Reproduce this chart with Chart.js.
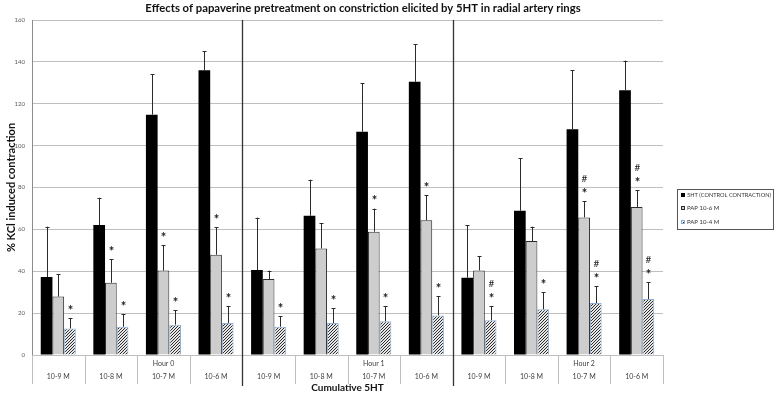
<!DOCTYPE html>
<html>
<head>
<meta charset="utf-8">
<script src="https://cdn.jsdelivr.net/npm/chart.js@4/dist/chart.umd.min.js"></script>
<style>
  html, body { margin: 0; padding: 0; background: #ffffff; }
  #wrap { width: 778px; height: 395px; position: relative; }
</style>
</head>
<body>
<div id="wrap"><canvas id="c" width="778" height="395"></canvas></div>
<script>
// ---------- data ----------
const categories = ['10-9 M', '10-8 M', '10-7 M', '10-6 M', '10-9 M', '10-8 M', '10-7 M', '10-6 M', '10-9 M', '10-8 M', '10-7 M', '10-6 M'];
const hourLabels = ['', '', 'Hour 0', '', '', '', 'Hour 1', '', '', '', 'Hour 2', ''];
const seriesNames = ['5HT (CONTROL CONTRACTION)', 'PAP 10-6 M', 'PAP 10-4 M'];

const ctrlValues = [37.2, 62.1, 114.8, 136.0, 40.6, 66.5, 106.6, 130.5, 36.9, 68.9, 107.8, 126.5];
const ctrlErrors = [24.1, 13.0, 19.4, 9.0, 25.0, 17.2, 23.3, 18.0, 25.0, 25.2, 28.3, 14.1];
const ctrlMarks  = ['', '', '', '', '', '', '', '', '', '', '', ''];

const pap6Values = [27.9, 34.5, 40.3, 47.9, 36.3, 50.9, 58.9, 64.3, 40.4, 54.4, 65.7, 70.7];
const pap6Errors = [10.8, 11.2, 12.1, 13.1, 4.0, 12.1, 11.0, 12.0, 6.9, 6.9, 7.8, 7.9];
const pap6Marks  = ['', '*', '*', '*', '', '', '*', '*', '', '', '#*', '#*'];

const pap4Values = [12.7, 13.5, 14.5, 15.3, 13.5, 15.3, 16.1, 18.9, 16.6, 21.8, 24.8, 26.7];
const pap4Errors = [4.8, 6.1, 6.8, 8.1, 5.1, 7.0, 7.2, 9.1, 6.8, 8.1, 8.1, 8.0];
const pap4Marks  = ['*', '*', '*', '*', '*', '*', '*', '*', '#*', '*', '#*', '#*'];

const groupBoundaries = [4, 8]; // category index where a new hour group starts

// ---------- styling helpers ----------
const FONT = 'Lato, "Open Sans", "DejaVu Sans", sans-serif';

function hatchPattern() {
  const s = 3;
  const pc = document.createElement('canvas');
  pc.width = s; pc.height = s;
  const p = pc.getContext('2d');
  p.fillStyle = '#e6e6e6';
  p.fillRect(0, 0, s, s);
  p.fillStyle = '#2e2e2e';
  // one-pixel diagonal "/" stripe
  p.fillRect(2, 0, 1, 1);
  p.fillRect(1, 1, 1, 1);
  p.fillRect(0, 2, 1, 1);
  return document.getElementById('c').getContext('2d').createPattern(pc, 'repeat');
}
const hatch = hatchPattern();

const errorsByDataset = [ctrlErrors, pap6Errors, pap4Errors];
const marksByDataset = [ctrlMarks, pap6Marks, pap4Marks];

// ---------- plugins ----------
const decorPlugin = {
  id: 'decor',
  afterDatasetsDraw(chart) {
    const ctx = chart.ctx;
    const xs = chart.scales.x, ys = chart.scales.y;
    const area = chart.chartArea;
    ctx.save();
    // error bars and significance marks
    chart.data.datasets.forEach((ds, di) => {
      const meta = chart.getDatasetMeta(di);
      meta.data.forEach((el, i) => {
        const v = ds.data[i];
        const e = errorsByDataset[di][i];
        const yTop = ys.getPixelForValue(v + e);
        const x = Math.round(el.x) + 0.5;
        ctx.strokeStyle = '#2b2b2b';
        ctx.lineWidth = 1;
        ctx.beginPath();
        ctx.moveTo(x, el.y);
        ctx.lineTo(x, yTop);
        ctx.moveTo(x - 2, Math.round(yTop) + 0.5);
        ctx.lineTo(x + 2, Math.round(yTop) + 0.5);
        ctx.stroke();
        const m = marksByDataset[di][i];
        if (m) {
          ctx.fillStyle = '#1a1a1a';
          ctx.textAlign = 'center';
          ctx.textBaseline = 'middle';
          const chars = m.split('').reverse();
          let cy = yTop - 10.5;
          chars.forEach(ch => {
            if (ch === '*') {
              ctx.font = 'bold 13px ' + FONT;
              ctx.fillText('*', x, cy + 3);
            } else {
              ctx.font = '10px ' + FONT;
              ctx.fillText(ch, x, cy);
            }
            cy -= 12;
          });
        }
      });
    });
    // category separators under the axis
    const n = chart.data.labels.length;
    const boundary = k => (k === 0) ? area.left : (k === n ? area.right : (xs.getPixelForValue(k - 1) + xs.getPixelForValue(k)) / 2);
    ctx.strokeStyle = '#bfbfbf';
    ctx.lineWidth = 1;
    for (let k = 0; k <= n; k++) {
      if (groupBoundaries.includes(k)) continue;
      const bx = Math.round(boundary(k)) + 0.5;
      ctx.beginPath();
      ctx.moveTo(bx, area.bottom);
      ctx.lineTo(bx, area.bottom + 29);
      ctx.stroke();
    }
    // dark hour-group separators
    ctx.strokeStyle = '#333333';
    ctx.lineWidth = 1.3;
    groupBoundaries.forEach(k => {
      const bx = Math.round(boundary(k)) + 0.5;
      ctx.beginPath();
      ctx.moveTo(bx, area.top);
      ctx.lineTo(bx, area.bottom + 31);
      ctx.stroke();
    });
    ctx.restore();
  },
  afterDraw(chart) {
    const ctx = chart.ctx;
    ctx.save();
    // title
    ctx.fillStyle = '#111111';
    ctx.font = 'bold 11.3px ' + FONT;
    ctx.textAlign = 'center';
    ctx.textBaseline = 'middle';
    ctx.fillText('Effects of papaverine pretreatment on constriction elicited by 5HT in radial artery rings', 363, 8);
    // legend
    const lx = 677, ly = 189, lw = 96, lh = 40;
    ctx.fillStyle = '#ffffff';
    ctx.fillRect(lx, ly, lw, lh);
    ctx.strokeStyle = '#555555';
    ctx.lineWidth = 1;
    ctx.strokeRect(lx + 0.5, ly + 0.5, lw, lh);
    const rows = [195, 208, 222];
    const ds = chart.data.datasets;
    ctx.font = '6px ' + FONT;
    ctx.textAlign = 'left';
    rows.forEach((ry, i) => {
      ctx.fillStyle = ds[i].backgroundColor;
      ctx.fillRect(681, ry - 2, 4, 4);
      if (ds[i].borderWidth) {
        ctx.strokeStyle = ds[i].borderColor;
        ctx.strokeRect(681.5, ry - 1.5, 3, 3);
      }
      ctx.fillStyle = '#333333';
      ctx.fillText(seriesNames[i], 687, ry + 0.5, 84);
    });
    ctx.restore();
  }
};

// ---------- chart ----------
new Chart(document.getElementById('c'), {
  type: 'bar',
  data: {
    labels: categories.map((c, i) => [hourLabels[i], c]),
    datasets: [
      { label: seriesNames[0], data: ctrlValues, backgroundColor: '#000000', borderWidth: 0 },
      { label: seriesNames[1], data: pap6Values, backgroundColor: '#cdcdcd', borderColor: '#2b2b2b', borderWidth: 1 },
      { label: seriesNames[2], data: pap4Values, backgroundColor: hatch, borderColor: '#8fb0d6', borderWidth: 1 }
    ]
  },
  options: {
    responsive: false,
    animation: false,
    events: [],
    layout: { padding: { top: 20, right: 115, bottom: 0, left: 0 } },
    datasets: { bar: { categoryPercentage: 0.667, barPercentage: 1.0 } },
    plugins: { legend: { display: false }, tooltip: { enabled: false }, title: { display: false } },
    scales: {
      x: {
        offset: true,
        grid: { display: false, drawTicks: false },
        border: { display: true, color: '#bfbfbf', width: 1 },
        ticks: {
          color: '#404040',
          font: { family: FONT, size: 7, lineHeight: 13 / 7 },
          padding: 2.5,
          maxRotation: 0, autoSkip: false
        },
        title: {
          display: true, text: 'Cumulative 5HT', color: '#111111',
          font: { family: FONT, size: 10, weight: 'bold', lineHeight: 1.2 },
          padding: { top: 0, bottom: 1 }
        },
        afterFit(scale) { scale.height = 40; }
      },
      y: {
        min: 0, max: 160,
        ticks: {
          stepSize: 20, color: '#595959',
          font: { family: FONT, size: 6 },
          padding: 7
        },
        grid: { color: '#bfbfbf', lineWidth: 1, drawTicks: false },
        border: { display: true, color: '#8c8c8c', width: 1 },
        title: {
          display: true, text: '% KCl induced contraction', color: '#111111',
          font: { family: FONT, size: 11, weight: 'bold', lineHeight: 1.2 },
          padding: { top: 5, bottom: 0 }
        },
        afterFit(scale) { scale.width = 32; }
      }
    }
  },
  plugins: [decorPlugin]
});
</script>
</body>
</html>
